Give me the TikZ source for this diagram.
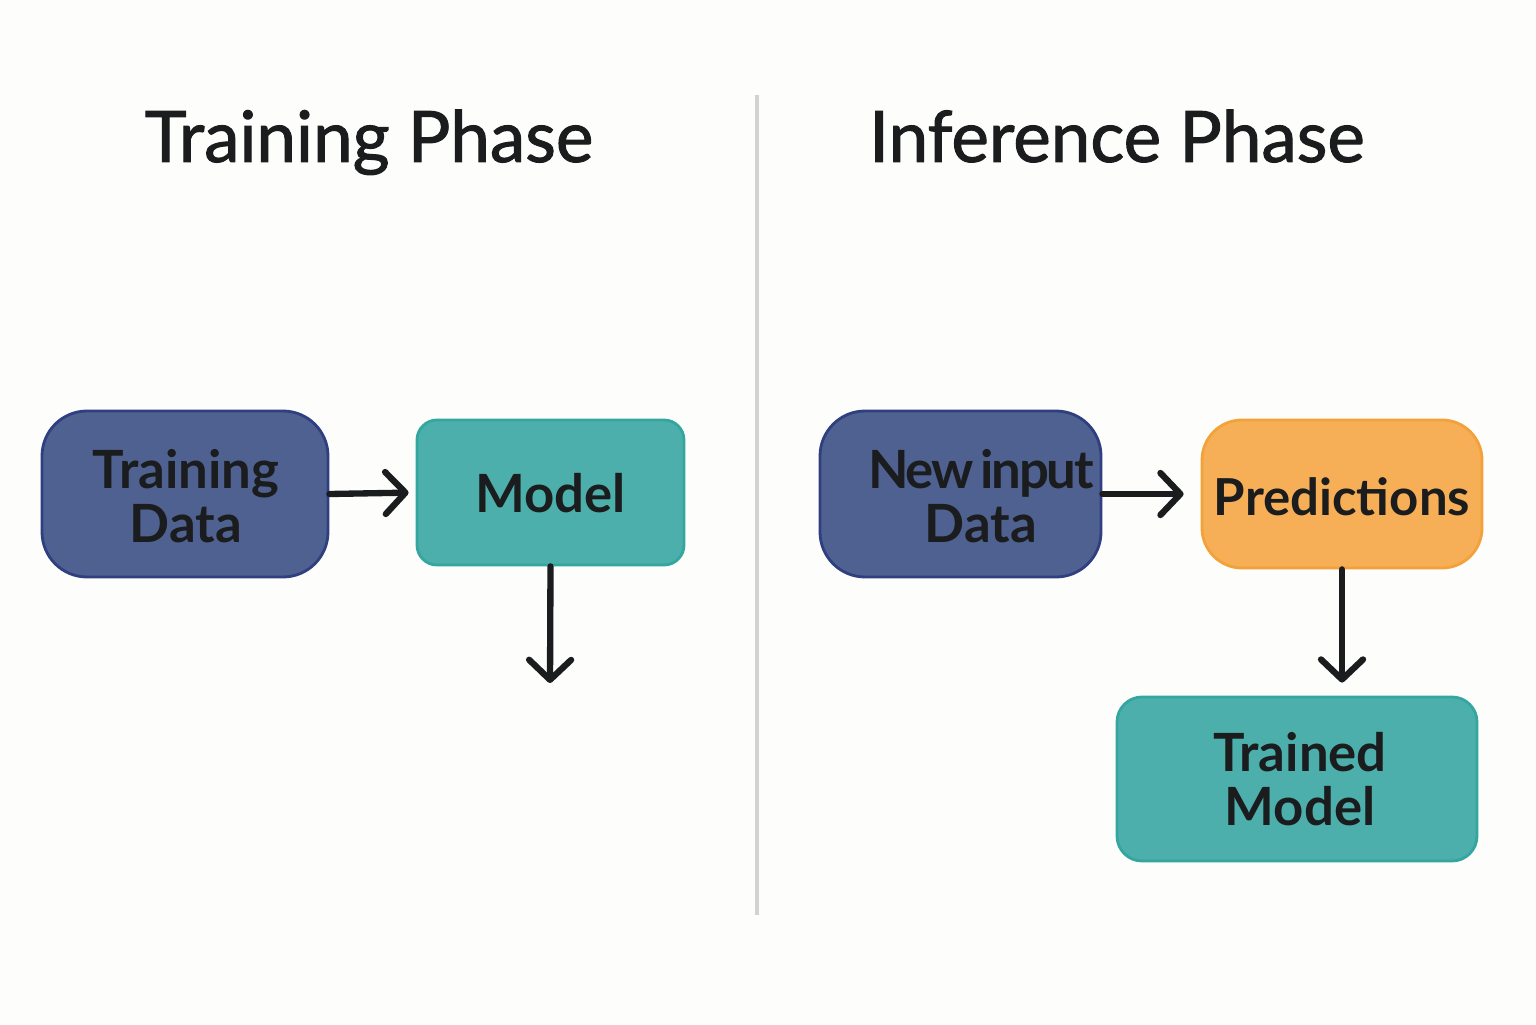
\documentclass[tikz,border=0pt]{standalone}
\usepackage{fontspec}
\setmainfont{Lato}
\newfontfamily\titlefont{Lato}[FakeBold=1.4]
\usetikzlibrary{arrows.meta}
\definecolor{bg}{HTML}{FDFDFB}
\definecolor{ink}{HTML}{1B1C1E}
\definecolor{slate}{HTML}{4F6190}
\definecolor{slateb}{HTML}{2F3F80}
\definecolor{teal}{HTML}{4DAFAB}
\definecolor{tealb}{HTML}{34A6A0}
\definecolor{orng}{HTML}{F6AF56}
\definecolor{orngb}{HTML}{F3A23A}
\definecolor{divider}{HTML}{D2D2D2}
\tikzset{
  boxfont/.style={text=ink, font=\fontsize{15}{15.5}\selectfont\bfseries, align=center},
  box/.style={draw, line width=0.8pt, rectangle, inner sep=0pt, boxfont},
  bluebox/.style={box, fill=slate, draw=slateb, rounded corners=0.45cm},
  tealbox/.style={box, fill=teal, draw=tealb},
  orangebox/.style={box, fill=orng, draw=orngb, rounded corners=0.4cm},
  title/.style={text=ink, font=\titlefont\fontsize{20.2}{24}\selectfont, anchor=base},
  flow/.style={draw=ink, line width=1.8pt, line cap=round,
    -{Straight Barb[length=2mm, width=4.2mm, line width=1.8pt, line cap=round, line join=round]}}
}
\begin{document}
\begin{tikzpicture}
\useasboundingbox[fill=bg] (0,0) rectangle (15.36,10.24);
% titles
\node[title] (t1) at (3.69,8.62) {Training Phase};
\node[title] (t2) at (11.17,8.62) {Inference Phase};
% divider
\coordinate (dtop) at (7.57,9.29);
\coordinate (dbot) at (7.57,1.09);
\draw[divider, line width=0.9pt] (dtop) -- (dbot);
% training phase
\node[bluebox, minimum width=2.86cm, minimum height=1.66cm] (td) at (1.85,5.30) {};
\node[boxfont] (tdl) at (1.86,5.28) {Training\\Data};
\node[tealbox, rounded corners=0.2cm, minimum width=2.67cm, minimum height=1.45cm] (model) at (5.505,5.315) {};
\node[boxfont] (modell) at (5.505,5.31) {Model};
\coordinate (mout) at (5.50,3.41);
\draw[flow, shorten >=0.07cm] (td.east) -- (model.west);
\draw[flow] (model.south) -- (mout);
% inference phase
\node[bluebox, minimum width=2.81cm, minimum height=1.66cm] (nid) at (9.605,5.30) {};
\node[boxfont] (nidl) at (9.81,5.28) {{\addfontfeatures{LetterSpace=-4}New\hspace{0.12em}input}\\Data};
\node[orangebox, minimum width=2.80cm, minimum height=1.48cm] (pred) at (13.42,5.30) {};
\node[boxfont, font=\fontsize{14.5}{15.5}\selectfont\bfseries] (predl) at (13.42,5.27) {Predictions};
\node[tealbox, rounded corners=0.25cm, minimum width=3.60cm, minimum height=1.64cm] (tm) at (12.97,2.45) {};
\node[boxfont] (tml) at (13.00,2.45) {Trained\\Model};
\draw[flow, shorten >=0.17cm] (nid.east) -- (pred.west);
\draw[flow, shorten >=0.13cm] (pred.south) -- (pred.south |- tm.north);
\end{tikzpicture}
\end{document}
